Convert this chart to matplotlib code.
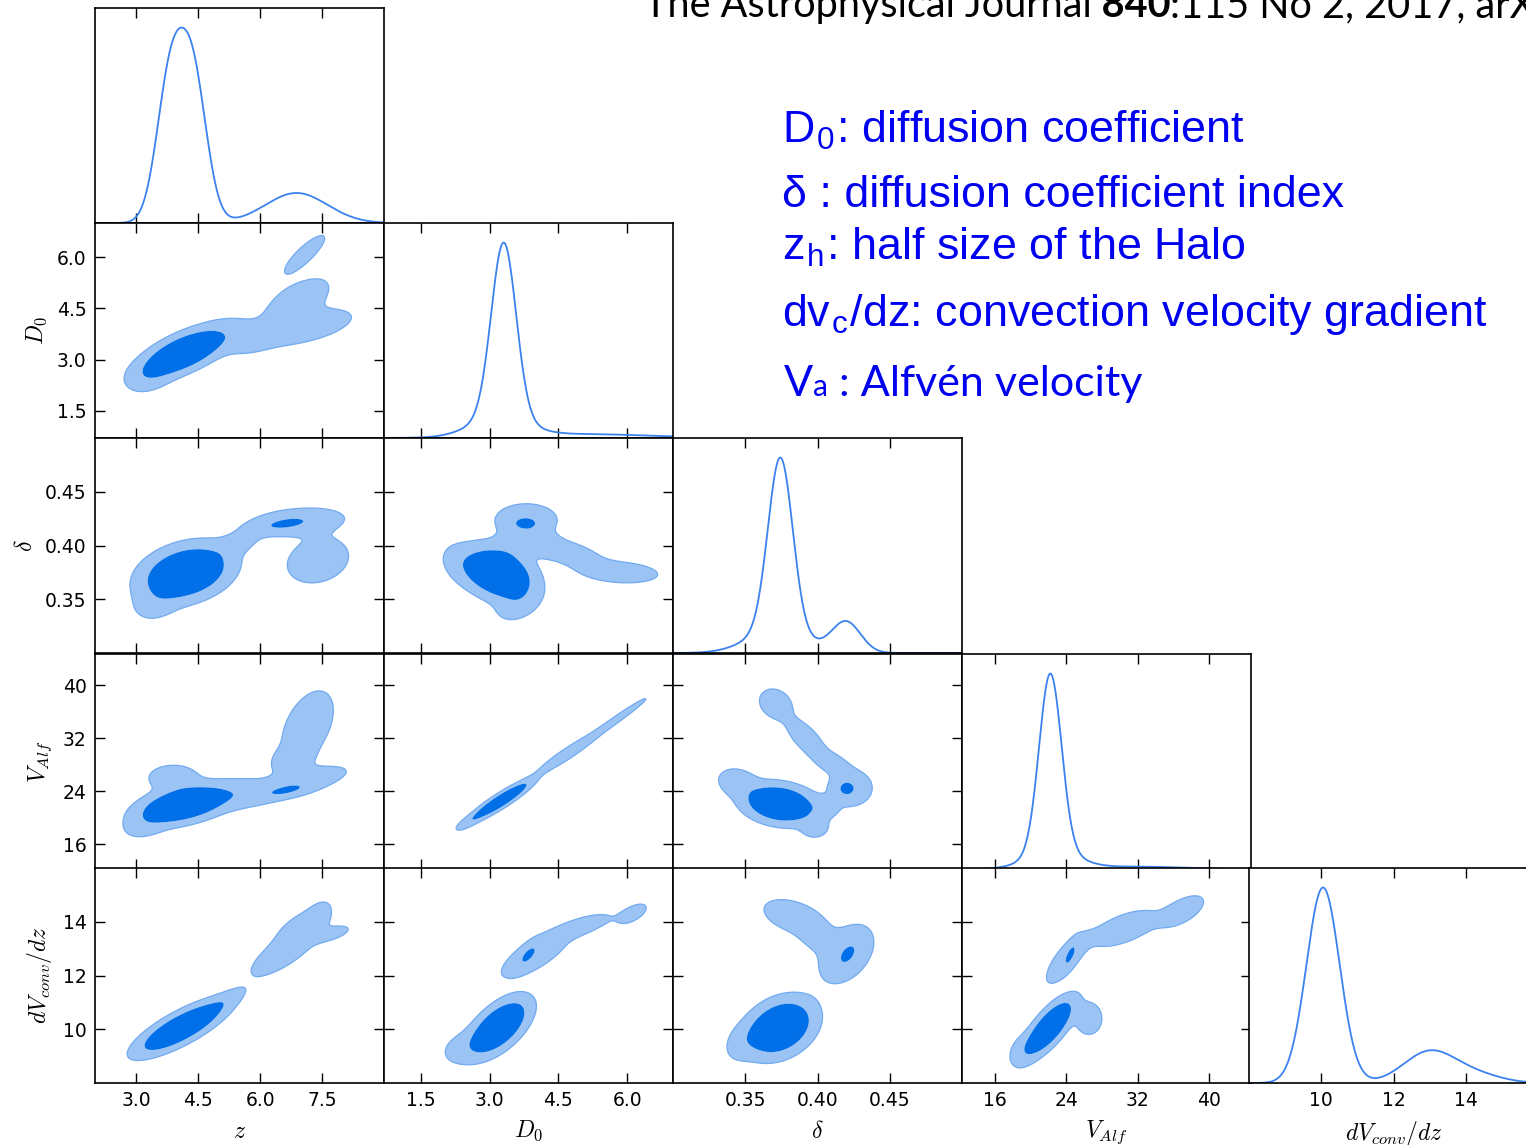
import numpy as np
import matplotlib
matplotlib.use('Agg')
import matplotlib.pyplot as plt

plt.rcParams['mathtext.fontset'] = 'cm'
plt.rcParams['font.family'] = 'DejaVu Sans'

# ---- parameters of the corner plot ----
labels = [r'$z$', r'$D_0$', r'$\delta$', r'$V_{Alf}$', r'$dV_{conv}/dz$']
ranges = [(2.0, 9.0), (0.7, 7.0), (0.30, 0.50), (12.3, 44.7), (8.0, 16.0)]
ticks = [[3.0, 4.5, 6.0, 7.5], [1.5, 3.0, 4.5, 6.0], [0.35, 0.40, 0.45],
         [16, 24, 32, 40], [10, 12, 14]]
tick_fmt = ['%.1f', '%.1f', '%.2f', '%d', '%d']

# ---- 1D marginals: gaussian pieces (mean, sigma, height) ----
z_1d = [(3.82, 0.33, 0.70), (4.38, 0.33, 0.70), (6.88, 0.75, 0.15)]
D0_1d = [(3.31, 0.27, 0.90), (3.20, 0.60, 0.10), (5.0, 1.5, 0.02)]
delta_1d = [(0.3743, 0.0085, 0.90), (0.372, 0.020, 0.12), (0.4198, 0.010, 0.16)]
V_1d = [(22.2, 1.25, 0.92), (22.5, 2.8, 0.09), (32.0, 5.0, 0.012)]
dV_1d = [(10.05, 0.46, 1.0), (13.0, 0.72, 0.16), (14.3, 0.7, 0.04)]

# ---- 2D densities: gaussian pieces (mx, my, sx, sy, rho, height) ----
z_D0 = [(4.15, 3.20, 0.53, 0.366, 0.65, 2.0),
        (3.30, 2.50, 0.35, 0.30, 0.30, 0.25),
        (5.50, 3.66, 0.50, 0.36, 0.00, 0.20),
        (7.10, 3.95, 0.75, 0.35, 0.55, 0.30),
        (6.90, 4.70, 0.48, 0.42, 0.60, 0.35),
        (7.08, 6.08, 0.41, 0.47, 0.85, 0.20)]
z_delta = [(4.20, 0.3745, 0.55, 0.0132, 0.30, 2.0),
           (3.45, 0.345, 0.35, 0.010, 0.20, 0.20),
           (5.45, 0.402, 0.35, 0.008, 0.50, 0.20),
           (6.90, 0.422, 0.75, 0.0085, 0.25, 0.30),
           (7.40, 0.386, 0.50, 0.014, 0.20, 0.30),
           (6.56, 0.420, 0.46, 0.005, 0.50, 0.35)]
z_V = [(4.15, 22.0, 0.57, 1.5, 0.45, 2.0),
       (3.90, 26.0, 0.40, 1.3, 0.00, 0.30),
       (3.20, 18.8, 0.35, 1.3, 0.30, 0.20),
       (5.50, 23.7, 0.50, 1.4, 0.20, 0.25),
       (6.90, 25.2, 0.80, 1.7, 0.70, 0.30),
       (7.15, 33.8, 0.42, 3.6, 0.45, 0.30),
       (6.75, 28.8, 0.30, 1.3, 0.30, 0.25),
       (6.64, 24.1, 0.37, 0.7, 0.60, 0.35)]
z_dV = [(4.10, 10.06, 0.54, 0.50, 0.80, 2.0),
        (5.10, 11.00, 0.35, 0.35, 0.80, 0.20),
        (6.60, 12.90, 0.55, 0.62, 0.78, 0.30),
        (7.00, 13.80, 0.35, 0.40, 0.60, 0.30),
        (7.38, 14.20, 0.20, 0.35, 0.50, 0.25),
        (7.72, 13.55, 0.30, 0.20, 0.60, 0.25)]
D0_delta = [(3.20, 0.374, 0.40, 0.0126, -0.30, 2.0),
            (2.40, 0.383, 0.30, 0.012, -0.30, 0.20),
            (3.60, 0.345, 0.30, 0.010, 0.30, 0.25),
            (3.60, 0.401, 0.30, 0.008, 0.00, 0.25),
            (3.80, 0.424, 0.45, 0.010, 0.00, 0.30),
            (4.15, 0.402, 0.25, 0.008, -0.30, 0.25),
            (4.80, 0.392, 0.45, 0.009, -0.60, 0.30),
            (5.85, 0.375, 0.55, 0.0065, -0.20, 0.30),
            (3.78, 0.4204, 0.22, 0.0046, 0.00, 0.35)]
D0_V = [(3.25, 22.6, 0.33, 1.5, 0.92, 2.0),
        (2.55, 19.4, 0.20, 0.9, 0.80, 0.20),
        (4.70, 29.7, 0.45, 2.1, 0.95, 0.30),
        (5.80, 35.0, 0.45, 2.2, 0.98, 0.25)]
D0_dV = [(3.20, 10.07, 0.336, 0.54, 0.60, 2.0),
         (2.40, 9.30, 0.30, 0.40, 0.30, 0.20),
         (4.00, 12.80, 0.50, 0.60, 0.75, 0.30),
         (5.05, 13.85, 0.40, 0.30, 0.70, 0.25),
         (6.12, 14.30, 0.25, 0.30, 0.60, 0.20),
         (3.84, 12.78, 0.15, 0.30, 0.70, 0.35)]
delta_V = [(0.374, 22.1, 0.0126, 1.5, -0.20, 2.0),
           (0.345, 25.3, 0.009, 1.4, -0.20, 0.30),
           (0.398, 18.6, 0.006, 1.0, 0.00, 0.30),
           (0.405, 21.5, 0.006, 1.0, 0.00, 0.25),
           (0.371, 37.2, 0.0075, 1.5, -0.20, 0.30),
           (0.392, 32.0, 0.009, 2.0, -0.70, 0.30),
           (0.410, 28.3, 0.008, 1.2, -0.50, 0.25),
           (0.423, 24.5, 0.010, 1.8, 0.00, 0.30),
           (0.4197, 24.4, 0.0051, 0.97, 0.00, 0.35)]
delta_dV = [(0.374, 10.05, 0.012, 0.54, 0.30, 2.0),
            (0.348, 9.50, 0.008, 0.45, 0.30, 0.20),
            (0.383, 14.20, 0.0135, 0.42, -0.40, 0.30),
            (0.398, 13.50, 0.008, 0.40, -0.30, 0.20),
            (0.420, 12.80, 0.0128, 0.74, 0.40, 0.30),
            (0.421, 12.79, 0.0047, 0.30, 0.50, 0.35)]
V_dV = [(22.07, 10.06, 1.44, 0.55, 0.75, 2.0),
        (26.5, 10.40, 1.0, 0.40, 0.00, 0.30),
        (19.0, 9.20, 1.0, 0.40, 0.30, 0.20),
        (24.0, 12.60, 1.5, 0.60, 0.75, 0.30),
        (30.5, 13.75, 2.5, 0.45, 0.60, 0.30),
        (37.0, 14.40, 1.6, 0.38, 0.60, 0.30),
        (24.47, 12.79, 0.5, 0.32, 0.70, 0.35)]

marginals = [z_1d, D0_1d, delta_1d, V_1d, dV_1d]
pairs = {(1, 0): z_D0, (2, 0): z_delta, (3, 0): z_V, (4, 0): z_dV,
         (2, 1): D0_delta, (3, 1): D0_V, (4, 1): D0_dV,
         (3, 2): delta_V, (4, 2): delta_dV, (4, 3): V_dV}
levels = [0.1, 0.5, 1e3]   # outer / inner credible region thresholds

light = '#9bc4f5'
dark = '#006fe8'
edge = '#72aaf0'
line_col = '#3c82ee'


def dens1d(x, comps):
    y = np.zeros_like(x)
    for m, s, a in comps:
        y += a * np.exp(-0.5 * ((x - m) / s) ** 2)
    return y


def dens2d(X, Y, comps):
    Z = np.zeros_like(X)
    for mx, my, sx, sy, r, a in comps:
        dx = (X - mx) / sx
        dy = (Y - my) / sy
        q = (dx * dx + dy * dy - 2 * r * dx * dy) / (1 - r * r)
        Z += a * np.exp(-0.5 * q)
    return Z


W, H = 1526, 1145
fig = plt.figure(figsize=(W / 100, H / 100), dpi=100)
col_left = [95, 384, 673, 962, 1249]
row_top = [8, 223, 438, 654, 868]
pw, ph = 289, 215

for r in range(5):
    for c in range(r + 1):
        ax = fig.add_axes([col_left[c] / W, 1 - (row_top[r] + ph) / H, pw / W, ph / H])
        for sp in ax.spines.values():
            sp.set_linewidth(1.2)
        ax.set_xlim(ranges[c])
        ax.set_xticks(ticks[c])
        ax.set_xticklabels([tick_fmt[c] % t for t in ticks[c]])
        if r == c:
            x = np.linspace(ranges[c][0], ranges[c][1], 600)
            y = dens1d(x, marginals[c])
            y = y / y.max()
            ax.plot(x, y, color=line_col, lw=1.3)
            ax.set_ylim(0, 1.1)
            ax.set_yticks([])
        else:
            ax.set_ylim(ranges[r])
            ax.set_yticks(ticks[r])
            ax.set_yticklabels([tick_fmt[r] % t for t in ticks[r]])
            gx = np.linspace(ranges[c][0], ranges[c][1], 350)
            gy = np.linspace(ranges[r][0], ranges[r][1], 350)
            X, Y = np.meshgrid(gx, gy)
            Z = dens2d(X, Y, pairs[(r, c)])
            ax.contourf(X, Y, Z, levels=levels, colors=[light, dark], antialiased=True)
            ax.contour(X, Y, Z, levels=[levels[0]], colors=[edge], linewidths=0.9)
        ax.tick_params(direction='in', top=True, right=True, length=7, width=1,
                       labelsize=13.5, pad=6)
        if r != 4:
            ax.tick_params(labelbottom=False)
        else:
            ax.set_xlabel(labels[c], fontsize=17, labelpad=6)
        if c != 0 or r == 0:
            ax.tick_params(labelleft=False)
        else:
            ax.set_ylabel(labels[r], fontsize=17, labelpad=6)

# ---- text on the right ----
renderer = fig.canvas.get_renderer()


def put_pieces(x, y, pieces):
    for s, kw in pieces:
        t = fig.text(x / W, 1 - y / H, s, va='baseline', ha='left', **kw)
        x = t.get_window_extent(renderer).x1


# journal reference, cut by the top and right edges as in the source picture
put_pieces(644, 17, [("The Astrophysical Journal", dict(family='Lato', fontsize=28.5)),
                     (" 840", dict(family='Lato', fontsize=28.5, weight='bold')),
                     (":115 No 2, 2017, arXiv", dict(family='Lato', fontsize=28.5))])

blue = '#0000f0'
legend_kw = dict(family='Liberation Sans', fontsize=32.3, color=blue, va='baseline')
fig.text(782 / W, 1 - 142 / H, r'D$_\mathregular{0}$: diffusion coefficient', **legend_kw)
fig.text(782 / W, 1 - 207 / H, u'\u03b4 : diffusion coefficient index', **legend_kw)
fig.text(782 / W, 1 - 259 / H, r'z$_\mathregular{h}$: half size of the Halo', **legend_kw)
fig.text(782 / W, 1 - 326 / H, r'dv$_\mathregular{c}$/dz: convection velocity gradient', **legend_kw)
put_pieces(784, 396, [("V", dict(family='Lato', fontsize=31, color=blue)),
                      ("a", dict(family='Lato', fontsize=21.5, color=blue)),
                      (u" : Alfv\u00e9n velocity", dict(family='Lato', fontsize=31, color=blue))])

fig.savefig('out.png', dpi=100)
